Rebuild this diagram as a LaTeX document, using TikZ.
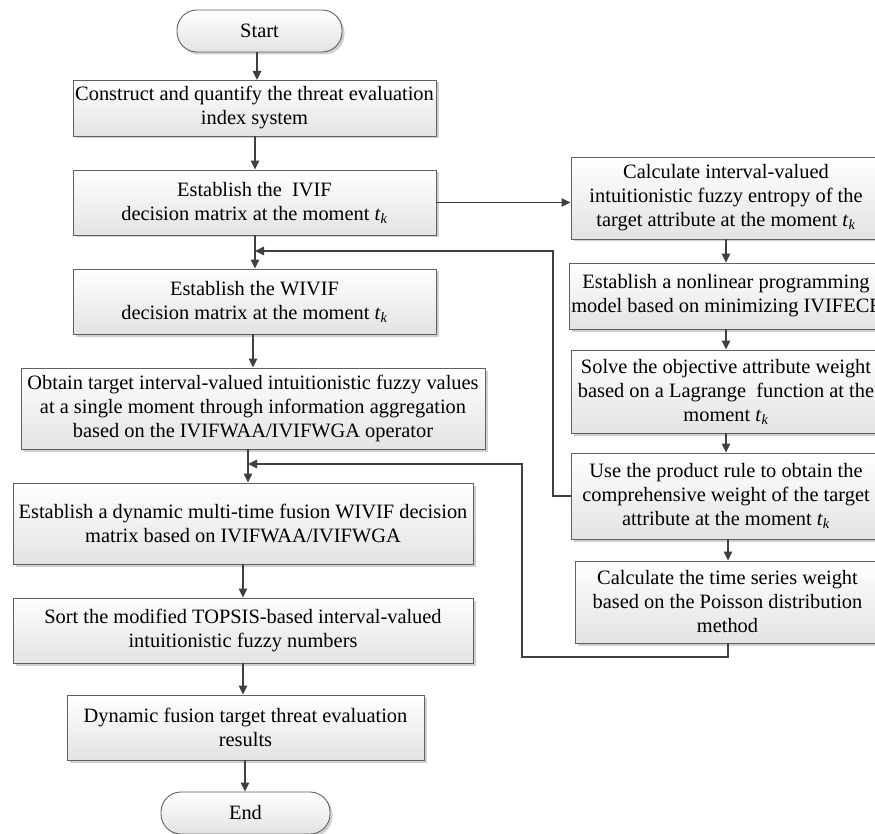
\documentclass[tikz,border=0pt]{standalone}
\usepackage{fontspec}
\setmainfont{Liberation Serif}
\usetikzlibrary{arrows.meta,shadows,calc}
\newcommand{\tkm}{\textit{t}\textsubscript{\textit{k}}}
\begin{document}
\begin{tikzpicture}[x=1pt,y=-1pt,
  proc/.style={draw=black!62, line width=0.9pt, top color=white, bottom color=black!11,
    drop shadow={shadow xshift=2.5pt, shadow yshift=-2.5pt, fill=black!30, opacity=0.6},
    align=center, inner sep=2pt, font=\fontsize{20.4}{24}\selectfont},
  term/.style={proc, rounded corners=20pt, minimum width=165pt, minimum height=42pt},
  arr/.style={draw=black!75, line width=1.3pt, -{Triangle[length=9pt,width=8.5pt]}}]
\useasboundingbox (0,0) rectangle (875,834);
\clip (0,0) rectangle (875,834);
\fill[white] (0,0) rectangle (875,834);
% left column
\node[term] (start) at (259.5,31) {Start};
\node[proc, minimum width=363pt, minimum height=56pt] (b1) at (254.5,108)
  {Construct and quantify the threat evaluation\\index system};
\node[proc, minimum width=363pt, minimum height=65pt] (b2) at (254.5,202.5)
  {Establish the\ \ IVIF\\decision matrix at the moment \tkm};
\node[proc, minimum width=363pt, minimum height=65pt] (b3) at (254.5,301.5)
  {Establish the WIVIF\\decision matrix at the moment \tkm};
\node[proc, minimum width=464pt, minimum height=81pt] (b4) at (253,408.5)
  {Obtain target interval-valued intuitionistic fuzzy values\\at a single moment through information aggregation\\based on the IVIFWAA/IVIFWGA operator};
\node[proc, minimum width=460pt, minimum height=81pt] (b5) at (243,523.5)
  {Establish a dynamic multi-time fusion WIVIF decision\\matrix based on IVIFWAA/IVIFWGA};
\node[proc, minimum width=460pt, minimum height=65pt] (b6) at (243,630.5)
  {Sort the modified TOPSIS-based interval-valued\\intuitionistic fuzzy numbers};
\node[proc, minimum width=357pt, minimum height=65pt] (b7) at (245.5,727.5)
  {Dynamic fusion target threat evaluation\\results};
\node[term, minimum width=169pt] (end) at (245.5,813) {End};
% right column
\node[proc, minimum width=310pt, minimum height=82pt] (r1) at (726,198)
  {Calculate interval-valued\\intuitionistic fuzzy entropy of the\\target attribute at the moment \tkm};
\node[proc, minimum width=310pt, minimum height=66pt] (r2) at (726,296)
  {Establish a nonlinear programming\\model based on minimizing IVIFECF};
\node[proc, minimum width=310pt, minimum height=83pt] (r3) at (726,391.5)
  {Solve the objective attribute weight\\based on a Lagrange\ \ function at the\\moment \tkm};
\node[proc, minimum width=310pt, minimum height=86pt] (r4) at (726,496)
  {Use the product rule to obtain the\\comprehensive weight of the target\\attribute at the moment \tkm};
\node[proc, minimum width=305pt, minimum height=82pt] (r5) at (727.5,602)
  {Calculate the time series weight\\based on the Poisson distribution\\method};
% junction coordinates
\coordinate (j1) at (255,251);
\coordinate (c1) at (553,496);
\coordinate (j2) at (248,464);
\coordinate (c2) at (522,657);
% main flow
\draw[arr] (start.south -| 257,0) -- (257,80);
\draw[arr] (b1.south -| 255,0) -- (b2.north -| 255,0);
\draw[arr] (b2.south -| 255,0) -- (b3.north -| 255,0);
\draw[arr] (b3.south -| 253,0) -- (b4.north -| 253,0);
\draw[arr] (b4.south -| 248,0) -- (b5.north -| 248,0);
\draw[arr] (b5.south -| 243,0) -- (b6.north -| 243,0);
\draw[arr] (b6.south -| 243,0) -- (b7.north -| 243,0);
\draw[arr] (b7.south -| 245,0) -- (end.north -| 245,0);
% right flow
\draw[arr] (b2.east) -- (b2.east -| r1.west);
\draw[arr] (r1.south -| 726,0) -- (r2.north -| 726,0);
\draw[arr] (r2.south -| 726,0) -- (r3.north -| 726,0);
\draw[arr] (r3.south -| 726,0) -- (r4.north -| 726,0);
\draw[arr] (r4.south -| 728,0) -- (r5.north -| 728,0);
% feedback
\draw[arr] (r4.west) -- (c1) |- (j1);
\draw[arr] (r5.south -| 728,0) |- (c2) |- (j2);
\end{tikzpicture}
\end{document}
